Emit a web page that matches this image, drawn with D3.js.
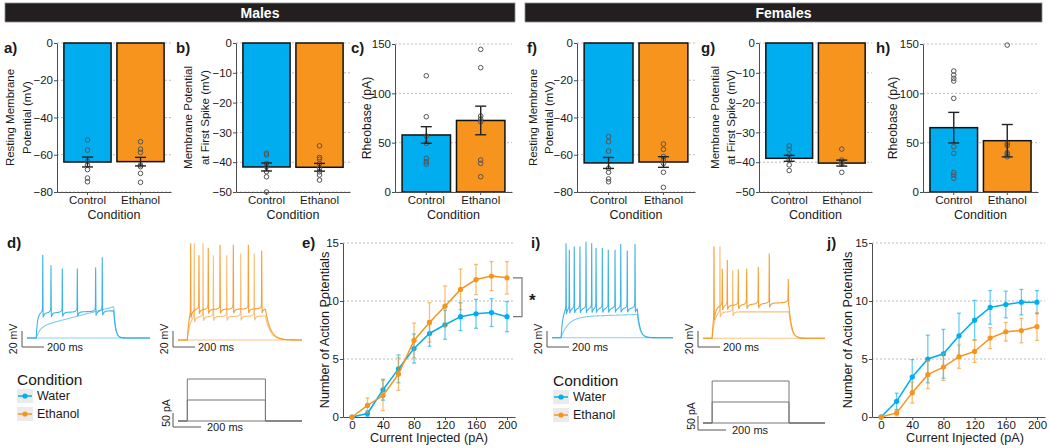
<!DOCTYPE html>
<html><head><meta charset="utf-8">
<script src="https://cdn.jsdelivr.net/npm/d3@7"></script>
<style>
body{margin:0;background:#fff;}
svg{display:block;font-family:"Liberation Sans",Arial,sans-serif;}
</style></head><body>
<svg id="c" width="1050" height="448"></svg>
<script>
// ---------------- DATA ----------------
const conditions = ["Control", "Ethanol"];
const legendLabels = ["Water", "Ethanol"];

const rmpTicks = [0, -20, -40, -60, -80];
const apTicks = [0, -10, -20, -30, -40, -50];
const rheoTicks = [0, 50, 100, 150];

// Males
const rmpMaleMeans = [-63.9, -63.7];
const rmpMaleSem = [2.65, 2.3];
const rmpMalePts = [[-52, -57.5, -63.5, -65.5, -68, -72.5, -74.5], [-53, -57, -58.7, -65.5, -66.4, -70, -74.8]];
const apMaleMeans = [-41.6, -41.7];
const apMaleSem = [1.35, 1.3];
const apMalePts = [[-37, -37.6, -40.4, -41.5, -43.2, -44.9, -50], [-34.5, -38.4, -39, -40.5, -42, -43.2, -44.3, -46]];
const rheoMaleMeans = [57.8, 72.5];
const rheoMaleSem = [8.4, 14.5];
const rheoMalePts = [[117.8, 76.3, 56.7, 49.3, 34.1, 30.7, 28.4], [144.6, 126, 77, 74, 71.2, 32.4, 29, 15.5]];

// Females
const rmpFemMeans = [-64.4, -63.9];
const rmpFemSem = [2.95, 2.85];
const rmpFemPts = [[-50.3, -53, -58, -67.3, -69.4, -73, -74.5], [-54.2, -57.1, -61, -62.8, -64.6, -69.4, -77.5]];
const apFemMeans = [-38.7, -40.3];
const apFemSem = [1.0, 1.0];
const apFemPts = [[-34.5, -35.7, -37.6, -39.3, -40.9, -42.8], [-35.6, -39.3, -40, -40.6, -43.4]];
const rheoFemMeans = [65.2, 52];
const rheoFemSem = [15.5, 16.4];
const rheoFemPts = [[122.6, 118.6, 115.2, 112.5, 94.9, 45.9, 39.2, 19.6, 17.2, 13.9], [148.9, 49.3, 47, 39.8, 38.2, 35.8]];

// Input-output curves
const currents = [0, 20, 40, 60, 80, 100, 120, 140, 160, 180, 200];
const currentTicks = [0, 40, 80, 120, 160, 200];
const apCountTicks = [0, 5, 10, 15];
const maleWaterAP = [0, 0.3, 2.35, 4.15, 5.9, 7.2, 7.95, 8.65, 8.9, 9.0, 8.65];
const maleWaterSem = [0, 0.25, 0.9, 1.2, 1.25, 1.1, 1.25, 1.2, 1.25, 1.2, 1.3];
const maleEthAP = [0, 1.0, 1.85, 3.7, 6.6, 8.15, 9.55, 11.0, 11.85, 12.15, 12.0];
const maleEthSem = [0, 0.65, 1.3, 1.4, 1.5, 1.7, 1.75, 1.75, 1.3, 1.25, 1.4];
const femWaterAP = [0, 1.35, 3.45, 5.0, 5.45, 7.0, 8.35, 9.45, 9.7, 9.9, 9.9];
const femWaterSem = [0, 0.7, 1.5, 2.05, 2.1, 1.95, 1.7, 1.45, 1.15, 1.1, 1.0];
const femEthAP = [0, 0.35, 2.1, 3.65, 4.3, 5.2, 5.65, 6.8, 7.35, 7.45, 7.8];
const femEthSem = [0, 0.25, 0.9, 1.2, 1.15, 1.0, 0.95, 0.9, 0.8, 1.05, 1.2];

// Example traces (ms / mV), three sweeps each: plateau at start/end of step, spike times, spike peaks
const stepOnsetMs = 75, stepOffsetMs = 705, restMv = -70;
const stimLevelsPA = [0, 75, 150];
const dWaterPlateau = [[-70, -70], [-56, -31], [-39, -36]];
const dWaterRiseTau = [10, 30, 10];
const dWaterSpikes = [[], [], [128, 195, 287, 409, 558, 612]];
const dWaterPeaks = [[], [], [34, 21, 17, 17, 18, 31]];
const dEthPlateau = [[-70, -70], [-41, -40], [-32, -31]];
const dEthRiseTau = [10, 20, 15];
const dEthSpikes = [[], [131, 202, 285, 393, 506, 615], [102, 169, 244, 339, 446, 567, 675]];
const dEthPeaks = [[], [51, 51, 36, 36, 38, 38], [51, 36, 45, 49, 49, 49, 42]];
const iWaterPlateau = [[-70, -70], [-44, -41], [-34, -33]];
const iWaterRiseTau = [10, 60, 15];
const iWaterSpikes = [[], [], [116, 143, 184, 231, 281, 328, 364, 416, 465, 521, 568, 622, 686]];
const iWaterPeaks = [[], [], [48, 40, 44, 44, 50, 48, 42, 42, 40, 40, 47, 39, 47]];
const iEthPlateau = [[-70, -70], [-37, -37], [-30, -25]];
const iEthRiseTau = [10, 20, 15];
const iEthSpikes = [[], [139, 243], [90, 158, 199, 289, 358, 453, 543, 699]];
const iEthPeaks = [[], [45, 15], [45, 17, 28, 16, 17, 19, 36, 4]];

// ---------------- DRAW ----------------
const svg = d3.select("#c");
const FONT = '"Liberation Sans", Arial, sans-serif';
const BLUE = "#00AEEF", ORANGE = "#F7941D";
const colors = [BLUE, ORANGE];
const AXIS = "#4d4d4d", GRID = "#bdbdbd", TXT = "#1a1a1a";

function banner(x0, x1, label) {
  svg.append("rect").attr("x", x0).attr("y", 3).attr("width", x1 - x0).attr("height", 19)
    .attr("fill", "#231f20").attr("stroke", "#8a8a8a").attr("stroke-width", 0.8);
  svg.append("text").attr("x", (x0 + x1) / 2).attr("y", 17.5).attr("text-anchor", "middle")
    .attr("fill", "#fff").attr("font-weight", "bold").attr("font-size", 14).text(label);
}
banner(5, 515, "Males");
banner(525, 1042, "Females");

function panelLabel(x, y, t) {
  svg.append("text").attr("x", x).attr("y", y).attr("font-size", 15).attr("font-weight", "bold")
    .attr("fill", TXT).text(t);
}
function yTitle(lines, xs, yc, size) {
  lines.forEach((l, i) => svg.append("text")
    .attr("transform", `translate(${xs[i]},${yc}) rotate(-90)`)
    .attr("text-anchor", "middle").attr("dy", "0.35em").attr("font-size", size).attr("fill", TXT).text(l));
}
function styleAxis(g) {
  g.attr("font-family", FONT).attr("font-size", 11.5);
  g.selectAll("path.domain").attr("stroke", AXIS).attr("stroke-width", 1);
  g.selectAll(".tick line").attr("stroke", AXIS);
  g.selectAll(".tick text").attr("fill", TXT);
}

function barPanel(o) {
  const y = d3.scaleLinear().domain(o.domain).range([o.yBot, o.yTop]);
  const x = d3.scaleBand().domain(conditions).range([o.x0, o.x1]).paddingInner(0.11).paddingOuter(0.13);
  const g = svg.append("g");
  g.selectAll("line.grid").data(o.ticks).join("line").attr("class", "grid")
    .attr("x1", o.x0).attr("x2", o.x1).attr("y1", d => y(d)).attr("y2", d => y(d))
    .attr("stroke", GRID).attr("stroke-dasharray", "2,2");
  g.selectAll("rect.bar").data(o.means).join("rect").attr("class", "bar")
    .attr("x", (d, i) => x(conditions[i])).attr("width", x.bandwidth())
    .attr("y", d => Math.min(y(0), y(d))).attr("height", d => Math.abs(y(d) - y(0)))
    .attr("fill", (d, i) => colors[i]).attr("stroke", "#111").attr("stroke-width", 1.5);
  o.pts.forEach((arr, i) => {
    const cx = x(conditions[i]) + x.bandwidth() / 2;
    g.append("g").selectAll("circle").data(arr).join("circle")
      .attr("cx", cx).attr("cy", d => y(d)).attr("r", 2.3)
      .attr("fill", "none").attr("stroke", "#555").attr("stroke-width", 1);
  });
  o.means.forEach((m, i) => {
    const cx = x(conditions[i]) + x.bandwidth() / 2, s = o.sems[i];
    const eg = g.append("g").attr("stroke", "#222").attr("stroke-width", 1.4);
    eg.append("line").attr("x1", cx).attr("x2", cx).attr("y1", y(m + s)).attr("y2", y(m - s));
    [m + s, m - s].forEach(v => eg.append("line").attr("x1", cx - 5.5).attr("x2", cx + 5.5).attr("y1", y(v)).attr("y2", y(v)));
  });
  const ya = g.append("g").attr("transform", `translate(${o.x0},0)`)
    .call(d3.axisLeft(y).tickValues(o.ticks).tickSize(3).tickSizeOuter(0).tickPadding(1));
  styleAxis(ya);
  const xa = g.append("g").attr("transform", `translate(0,${o.yBot})`)
    .call(d3.axisBottom(x).tickSize(3).tickSizeOuter(0).tickPadding(1));
  styleAxis(xa);
  g.append("text").attr("x", (o.x0 + o.x1) / 2).attr("y", 219).attr("text-anchor", "middle")
    .attr("font-size", 12.5).attr("fill", TXT).text("Condition");
  yTitle(o.title, o.titleX, (o.yTop + o.yBot) / 2, o.title.length > 1 ? 11.5 : 12.3);
  panelLabel(o.labelX, 53, o.label);
}

barPanel({x0: 57, x1: 171, yTop: 43, yBot: 192, domain: [-80, 0], ticks: rmpTicks, means: rmpMaleMeans, sems: rmpMaleSem, pts: rmpMalePts,
  title: ["Resting Membrane", "Potential (mV)"], titleX: [9.5, 26.5], label: "a)", labelX: 4});
barPanel({x0: 236, x1: 350, yTop: 43, yBot: 192, domain: [-50, 0], ticks: apTicks, means: apMaleMeans, sems: apMaleSem, pts: apMalePts,
  title: ["Membrane Potential", "at First Spike (mV)"], titleX: [188, 205], label: "b)", labelX: 176});
barPanel({x0: 395, x1: 512, yTop: 44, yBot: 192, domain: [0, 150], ticks: rheoTicks, means: rheoMaleMeans, sems: rheoMaleSem, pts: rheoMalePts,
  title: ["Rheobase (pA)"], titleX: [367], label: "c)", labelX: 351});
barPanel({x0: 577, x1: 695, yTop: 43, yBot: 192, domain: [-80, 0], ticks: rmpTicks, means: rmpFemMeans, sems: rmpFemSem, pts: rmpFemPts,
  title: ["Resting Membrane", "Potential (mV)"], titleX: [533, 549], label: "f)", labelX: 527});
barPanel({x0: 759, x1: 872, yTop: 43, yBot: 192, domain: [-50, 0], ticks: apTicks, means: apFemMeans, sems: apFemSem, pts: apFemPts,
  title: ["Membrane Potential", "at First Spike (mV)"], titleX: [715, 731], label: "g)", labelX: 701});
barPanel({x0: 923, x1: 1038, yTop: 44, yBot: 192, domain: [0, 150], ticks: rheoTicks, means: rheoFemMeans, sems: rheoFemSem, pts: rheoFemPts,
  title: ["Rheobase (pA)"], titleX: [893], label: "h)", labelX: 876});

// ---- Input-output line panels ----
function linePanel(o) {
  const x = d3.scaleLinear().domain([-11.6, 210.3]).range([o.x0, o.x1]);
  const y = d3.scaleLinear().domain([0, 15]).range([417, 243]);
  const g = svg.append("g");
  g.selectAll("line.grid").data(apCountTicks.slice(1)).join("line")
    .attr("x1", o.x0).attr("x2", o.x1).attr("y1", d => y(d)).attr("y2", d => y(d))
    .attr("stroke", GRID).attr("stroke-dasharray", "2,2");
  const ya = g.append("g").attr("transform", `translate(${o.x0},0)`)
    .call(d3.axisLeft(y).tickValues(apCountTicks).tickSize(3).tickSizeOuter(0).tickPadding(1));
  styleAxis(ya);
  const xa = g.append("g").attr("transform", `translate(0,417)`)
    .call(d3.axisBottom(x).tickValues(currentTicks).tickSize(3).tickSizeOuter(0).tickPadding(0.5));
  styleAxis(xa);
  o.series.forEach(([means, sems, col]) => {
    const eg = g.append("g").attr("stroke", col).attr("stroke-opacity", 0.6).attr("stroke-width", 1.3);
    currents.forEach((c, i) => {
      if (sems[i] <= 0) return;
      const cx = x(c);
      eg.append("line").attr("x1", cx).attr("x2", cx).attr("y1", y(means[i] + sems[i])).attr("y2", y(Math.max(0, means[i] - sems[i])));
      [means[i] + sems[i], Math.max(0, means[i] - sems[i])].forEach(v =>
        eg.append("line").attr("x1", cx - 2).attr("x2", cx + 2).attr("y1", y(v)).attr("y2", y(v)));
    });
    g.append("path").datum(means).attr("fill", "none").attr("stroke", col).attr("stroke-width", 1.5)
      .attr("d", d3.line().x((d, i) => x(currents[i])).y(d => y(d)));
    g.append("g").selectAll("circle").data(means).join("circle")
      .attr("cx", (d, i) => x(currents[i])).attr("cy", d => y(d)).attr("r", 2.6).attr("fill", col);
  });
  g.append("text").attr("x", o.titleCx).attr("y", 442).attr("text-anchor", "middle")
    .attr("font-size", 12.7).attr("fill", TXT).text("Current Injected (pA)");
  yTitle(["Number of Action Potentials"], [o.yTitleX], 330, 12.7);
  panelLabel(o.labelX, 248, o.label);
  return {x, y};
}
const eScales = linePanel({x0: 343, x1: 515, titleCx: 429, yTitleX: 325, label: "e)", labelX: 302,
  series: [[maleWaterAP, maleWaterSem, BLUE], [maleEthAP, maleEthSem, ORANGE]]});
linePanel({x0: 872, x1: 1045, titleCx: 965, yTitleX: 848, label: "j)", labelX: 827,
  series: [[femWaterAP, femWaterSem, BLUE], [femEthAP, femEthSem, ORANGE]]});

// significance bracket in e)
{
  const yTop = eScales.y(maleEthAP[10]), yBot = eScales.y(maleWaterAP[10]);
  const bx = 522;
  svg.append("path").attr("d", `M${bx - 9},${yTop}H${bx}V${yBot}H${bx - 9}`)
    .attr("fill", "none").attr("stroke", "#777").attr("stroke-width", 1.2);
  svg.append("text").attr("x", 529).attr("y", (yTop + yBot) / 2 + 9).attr("font-size", 17)
    .attr("font-weight", "bold").attr("fill", TXT).text("*");
}

// ---- Example traces ----
function makeTrace(p, tauR, sp, pk, tauD) {
  const plat = t => p[0] + (p[1] - p[0]) * (t - stepOnsetMs) / (stepOffsetMs - stepOnsetMs);
  function vb(t) {
    if (t <= stepOnsetMs) return restMv;
    const tt = Math.min(t, stepOffsetMs);
    let v = restMv + (plat(tt) - restMv) * (1 - Math.exp(-(tt - stepOnsetMs) / tauR));
    if (sp.length) {
      let prev = null, next = null;
      for (const s of sp) { if (s <= tt) prev = s; else if (next === null) next = s; }
      if (prev !== null) v -= 7 * Math.exp(-(tt - prev) / 10);
      if (next !== null) v += 5 * Math.exp(-(next - tt) / 10);
    }
    if (t > stepOffsetMs) v = restMv + (v - restMv) * Math.exp(-(t - stepOffsetMs) / tauD);
    return v;
  }
  const pts = [];
  for (let t = 0; t <= 1000; t += 2) {
    if (sp.some(s => t > s - 3 && t < s + 4)) continue;
    pts.push([t, vb(t)]);
  }
  sp.forEach((s, i) => { pts.push([s - 2, vb(s - 2) + 3]); pts.push([s, pk[i]]); pts.push([s + 3, vb(s + 3)]); });
  pts.sort((a, b) => a[0] - b[0]);
  return pts;
}
function tracePanel(o) {
  const x = d3.scaleLinear().domain([0, 1000]).range([o.x0, o.x1]);
  const y = v => o.baseY - (v - restMv) * 0.8;
  const line = d3.line().x(d => x(d[0])).y(d => y(d[1]));
  const ops = [0.55, 0.6, 0.9];
  o.plateau.forEach((p, k) => {
    const pts = makeTrace(p, o.riseTau[k], o.spikes[k], o.peaks[k], o.tauD);
    svg.append("path").attr("d", line(pts)).attr("fill", "none").attr("stroke", o.color)
      .attr("stroke-opacity", ops[k]).attr("stroke-width", 1.1);
  });
  const sb = o.sb;
  svg.append("path").attr("d", `M${sb.x},${sb.y - 16}V${sb.y}H${sb.x + 22}`)
    .attr("fill", "none").attr("stroke", "#555").attr("stroke-width", 1);
  svg.append("text").attr("x", sb.x + 25).attr("y", sb.y + 4).attr("font-size", 11).attr("fill", TXT).text("200 ms");
  svg.append("text").attr("transform", `translate(${sb.x - 5},${sb.y - 8}) rotate(-90)`)
    .attr("text-anchor", "middle").attr("font-size", 10.5).attr("fill", TXT).text("20 mV");
}
function stimPanel(o) {
  const x = d3.scaleLinear().domain([0, 1000]).range([o.x0, o.x1]);
  const y = pa => o.baseY - pa * 0.28;
  stimLevelsPA.forEach(l => {
    svg.append("path").attr("d",
      `M${x(0)},${y(0)}H${x(stepOnsetMs)}V${y(l)}H${x(stepOffsetMs)}V${y(0)}H${x(1000)}`)
      .attr("fill", "none").attr("stroke", "#777").attr("stroke-width", 1);
  });
  const sb = o.sb;
  svg.append("path").attr("d", `M${sb.x},${sb.y - 14}V${sb.y}H${sb.x + 28}`)
    .attr("fill", "none").attr("stroke", "#555").attr("stroke-width", 1);
  svg.append("text").attr("x", sb.x + 34).attr("y", sb.y + 4).attr("font-size", 11).attr("fill", TXT).text("200 ms");
  svg.append("text").attr("transform", `translate(${sb.x - 3},${sb.y - 14}) rotate(-90)`)
    .attr("text-anchor", "middle").attr("font-size", 10.5).attr("fill", TXT).text("50 pA");
}
function legend(x, yb) {
  svg.append("text").attr("x", x).attr("y", yb).attr("font-size", 15.5).attr("fill", TXT).text("Condition");
  legendLabels.forEach((lab, i) => {
    const ry = yb + 4 + i * 18;
    svg.append("rect").attr("x", x).attr("y", ry).attr("width", 16).attr("height", 14).attr("fill", "#ebebeb");
    svg.append("line").attr("x1", x + 1).attr("x2", x + 15).attr("y1", ry + 7).attr("y2", ry + 7)
      .attr("stroke", colors[i]).attr("stroke-width", 1.5);
    svg.append("circle").attr("cx", x + 8).attr("cy", ry + 7).attr("r", 2.6).attr("fill", colors[i]);
    svg.append("text").attr("x", x + 20).attr("y", ry + 11).attr("font-size", 12.5).attr("fill", TXT).text(lab);
  });
}

tracePanel({x0: 27, x1: 150, baseY: 338, color: "#29ABE2", plateau: dWaterPlateau, riseTau: dWaterRiseTau,
  spikes: dWaterSpikes, peaks: dWaterPeaks, tauD: 15, sb: {x: 22, y: 347}});
tracePanel({x0: 178, x1: 302, baseY: 340, color: ORANGE, plateau: dEthPlateau, riseTau: dEthRiseTau,
  spikes: dEthSpikes, peaks: dEthPeaks, tauD: 40, sb: {x: 173, y: 347}});
tracePanel({x0: 552, x1: 673, baseY: 337.7, color: "#29ABE2", plateau: iWaterPlateau, riseTau: iWaterRiseTau,
  spikes: iWaterSpikes, peaks: iWaterPeaks, tauD: 22, sb: {x: 547, y: 347}});
tracePanel({x0: 703, x1: 825, baseY: 338.3, color: ORANGE, plateau: iEthPlateau, riseTau: iEthRiseTau,
  spikes: iEthSpikes, peaks: iEthPeaks, tauD: 22, sb: {x: 698, y: 347}});
stimPanel({x0: 178, x1: 302, baseY: 421, sb: {x: 173, y: 427}});
stimPanel({x0: 703, x1: 825, baseY: 423, sb: {x: 698, y: 430}});
legend(17, 385);
legend(553, 386);
panelLabel(7, 248, "d)");
panelLabel(531, 248, "i)");
</script>
</body></html>
